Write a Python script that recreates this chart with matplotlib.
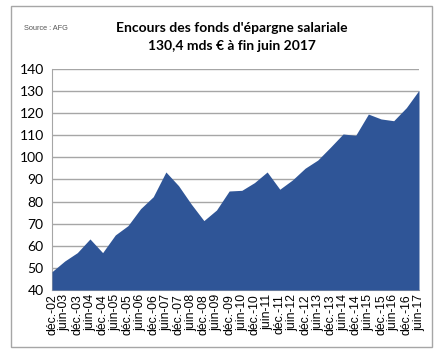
import matplotlib.pyplot as plt
from matplotlib.patches import Rectangle

labels = []
for yr in range(2, 18):
    if yr > 2:
        labels.append('juin-%02d' % yr)
    if yr < 17:
        labels.append('déc.-%02d' % yr)

encours = [48.3, 53.1, 56.9, 63.1, 56.9, 64.9, 69.1, 76.8, 82.2, 93.4,
           87.2, 78.9, 71.4, 76.2, 84.8, 85.1, 88.6, 93.4, 85.6, 89.8,
           95.1, 98.8, 104.6, 110.6, 110.0, 119.6, 117.4, 116.6, 122.5, 130.4]

x = list(range(len(encours)))

fig = plt.figure(figsize=(4.46, 3.56), dpi=100)
fig.patches.append(Rectangle((11/446, 1-347/356), 421/446, 341/356,
                             transform=fig.transFigure, fill=False,
                             edgecolor='#a6a6a6', linewidth=1))

ax = fig.add_axes([52/446, 1-290/356, 367/446, 221/356])
ax.fill_between(x, 40, encours, color='#2f5597', linewidth=0, zorder=3)
ax.set_xlim(0, len(encours)-1)
ax.set_ylim(40, 140)
ax.set_yticks(range(40, 141, 10))
ax.yaxis.grid(True, color='#a6a6a6', linewidth=1, zorder=0)
ax.set_xticks(x)
ax.set_xticklabels(labels, rotation=90, fontsize=8.8, family='Liberation Sans')
for lab in ax.get_yticklabels():
    lab.set_family('Lato')
    lab.set_fontsize(10)
ax.tick_params(axis='both', length=0, pad=3)
ax.tick_params(axis='y', pad=6)
for s in ['top', 'right']:
    ax.spines[s].set_visible(False)
ax.spines['left'].set_color('#a6a6a6')
ax.spines['bottom'].set_color('#a6a6a6')

fig.text(0.52, 1-28/356, "Encours des fonds d'épargne salariale",
         ha='center', va='center', fontsize=10, fontweight='bold', family='Lato')
fig.text(0.52, 1-46/356, "130,4 mds € à fin juin 2017",
         ha='center', va='center', fontsize=10, fontweight='bold', family='Lato')
fig.text(24/446, 1-28/356, "Source : AFG", ha='left', va='center',
         fontsize=5.3, color='#555555', family='Liberation Sans')

fig.savefig('out.png', dpi=100)
